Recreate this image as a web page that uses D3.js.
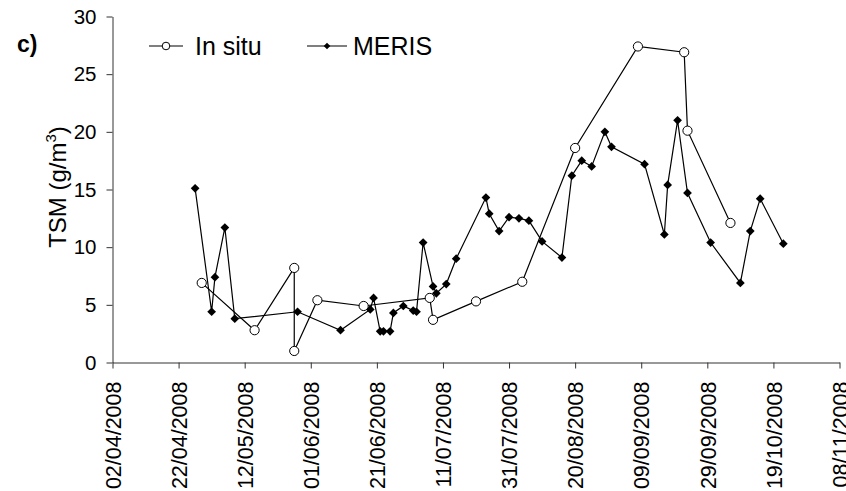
<!DOCTYPE html>
<html><head><meta charset="utf-8">
<script src="https://cdn.jsdelivr.net/npm/d3@7"></script>
<style>body{margin:0;background:#fff;} svg{display:block;font-family:"Liberation Sans",Arial,sans-serif;}</style>
</head><body><svg id="chart" width="846" height="491"></svg>
<script>
const inSituDates = ["29/04/2008","15/05/2008","27/05/2008","27/05/2008","03/06/2008","17/06/2008","07/07/2008","08/07/2008","21/07/2008","04/08/2008","20/08/2008","08/09/2008","22/09/2008","23/09/2008","06/10/2008"];
const inSituValues = [6.9,2.8,8.2,1.0,5.4,4.9,5.6,3.7,5.3,7.0,18.6,27.4,26.9,20.1,12.1];
const merisDates = ["27/04/2008","02/05/2008","03/05/2008","06/05/2008","09/05/2008","28/05/2008","10/06/2008","19/06/2008","20/06/2008","22/06/2008","23/06/2008","25/06/2008","26/06/2008","29/06/2008","02/07/2008","03/07/2008","05/07/2008","08/07/2008","09/07/2008","12/07/2008","15/07/2008","24/07/2008","25/07/2008","28/07/2008","31/07/2008","03/08/2008","06/08/2008","10/08/2008","16/08/2008","19/08/2008","22/08/2008","25/08/2008","29/08/2008","31/08/2008","10/09/2008","16/09/2008","17/09/2008","20/09/2008","23/09/2008","30/09/2008","09/10/2008","12/10/2008","15/10/2008","22/10/2008"];
const merisValues = [15.1,4.4,7.4,11.7,3.8,4.4,2.8,4.6,5.6,2.7,2.7,2.7,4.3,4.9,4.5,4.4,10.4,6.6,6.0,6.8,9.0,14.3,12.9,11.4,12.6,12.5,12.3,10.5,9.1,16.2,17.5,17.0,20.0,18.7,17.2,11.1,15.4,21.0,14.7,10.4,6.9,11.4,14.2,10.3];
const xTickLabels = ["02/04/2008","22/04/2008","12/05/2008","01/06/2008","21/06/2008","11/07/2008","31/07/2008","20/08/2008","09/09/2008","29/09/2008","19/10/2008","08/11/2008"];
const yTickValues = [0,5,10,15,20,25,30];
const seriesNames = ["In situ","MERIS"];
const panelLabel = "c)";

const parse = d3.utcParse("%d/%m/%Y");
const fmt = d3.utcFormat("%d/%m/%Y");
const svg = d3.select("#chart");
const FONT = "Liberation Sans, Arial, sans-serif";

const x = d3.scaleUtc()
  .domain([parse(xTickLabels[0]), parse(xTickLabels[xTickLabels.length-1])])
  .range([112.5, 839.5]);
const y = d3.scaleLinear().domain([0,30]).range([362.5, 16.5]);

const inSitu = inSituDates.map((d,i)=>({date:parse(d), value:inSituValues[i]}));
const meris = merisDates.map((d,i)=>({date:parse(d), value:merisValues[i]}));

// axes
const gx = svg.append("g").attr("transform","translate(0,362.5)")
  .call(d3.axisBottom(x).tickValues(xTickLabels.map(parse)).tickFormat(fmt).tickSizeInner(6).tickSizeOuter(0));
gx.selectAll("text")
  .attr("transform","rotate(-90)")
  .attr("text-anchor","end")
  .attr("x",-19).attr("y",0).attr("dy","0.36em")
  .attr("font-size",21.5).attr("font-family",FONT).attr("fill","#000");

const gy = svg.append("g").attr("transform","translate(112.5,0)")
  .call(d3.axisLeft(y).tickValues(yTickValues).tickSizeInner(6).tickSizeOuter(0).tickPadding(10));
gy.selectAll("text").attr("font-size",20.5).attr("font-family",FONT).attr("fill","#000");

svg.selectAll(".domain, .tick line").attr("stroke","#333").attr("stroke-width",1);

// lines
const line = d3.line().x(d=>x(d.date)).y(d=>y(d.value));
svg.append("path").datum(inSitu).attr("d",line).attr("fill","none").attr("stroke","#000").attr("stroke-width",1.2);
svg.append("path").datum(meris).attr("d",line).attr("fill","none").attr("stroke","#000").attr("stroke-width",1.2);

// markers
const diamond = d3.symbol().type(d3.symbolSquare).size(38);
svg.append("g").selectAll("path").data(meris).join("path")
  .attr("d",diamond)
  .attr("transform",d=>`translate(${x(d.date)},${y(d.value)}) rotate(45)`)
  .attr("fill","#000");
svg.append("g").selectAll("circle").data(inSitu).join("circle")
  .attr("cx",d=>x(d.date)).attr("cy",d=>y(d.value)).attr("r",4.6)
  .attr("fill","#fff").attr("stroke","#000").attr("stroke-width",1);

// legend
const ly = 46;
const leg = svg.append("g");
leg.append("line").attr("x1",149).attr("x2",183).attr("y1",ly).attr("y2",ly).attr("stroke","#000").attr("stroke-width",1.2);
leg.append("circle").attr("cx",166).attr("cy",ly).attr("r",3.8).attr("fill","#fff").attr("stroke","#000");
leg.append("text").attr("x",195).attr("y",ly).attr("dy","0.36em").attr("font-size",25).text(seriesNames[0]);
leg.append("line").attr("x1",307).attr("x2",347).attr("y1",ly).attr("y2",ly).attr("stroke","#000").attr("stroke-width",1.2);
leg.append("path").attr("d",d3.symbol().type(d3.symbolSquare).size(22)).attr("transform",`translate(327,${ly}) rotate(45)`).attr("fill","#000");
leg.append("text").attr("x",353).attr("y",ly).attr("dy","0.36em").attr("font-size",25).text(seriesNames[1]);

// panel label
svg.append("text").attr("x",17).attr("y",52).attr("font-size",23).attr("font-weight","bold").text(panelLabel);

// y label
const yl = svg.append("text").attr("transform","translate(66,187) rotate(-90)").attr("text-anchor","middle").attr("font-size",24);
yl.append("tspan").text("TSM (g/m");
yl.append("tspan").attr("font-size",15).attr("dy",-10).text("3");
yl.append("tspan").attr("dy",10).text(")");
</script></body></html>
